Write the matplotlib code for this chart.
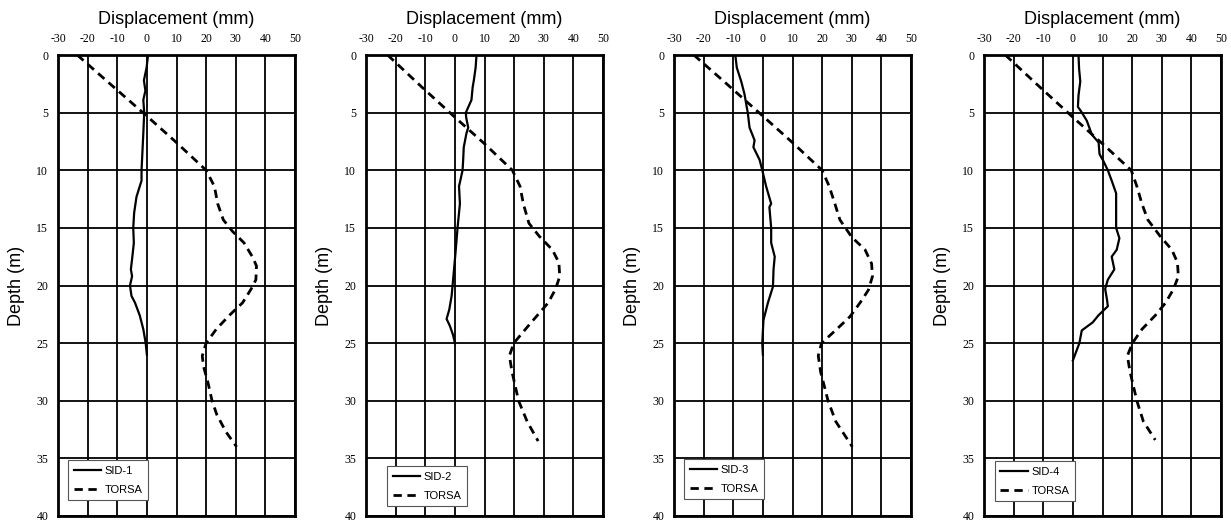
import matplotlib
matplotlib.use("Agg")
import matplotlib.pyplot as plt

plt.rcParams["axes.unicode_minus"] = False

# Inclinometer readings: depth (m) and lateral displacement (mm)
sid1_depth = [0, 1.1, 2.2, 3.1, 3.9, 5, 6.8, 10, 10.9, 12.3, 13.7, 15, 16.3, 17.5, 18.6, 19.2, 20, 20.9, 21.5, 22.6, 23.8, 25, 26]
sid1_disp = [0.4, -0.1, -1, -0.5, -1.2, -0.9, -1.2, -1.8, -1.8, -3.5, -4.3, -4.6, -4.4, -4.9, -5.4, -5.0, -5.7, -5.2, -4, -2.4, -1.2, -0.4, 0]

sid2_depth = [0, 1.1, 2.2, 2.8, 3.9, 5, 5.4, 6.3, 6.8, 8, 9.1, 10, 11.4, 12.9, 15, 17.2, 19.5, 20.9, 22.1, 22.9, 23.5, 24.3, 25]
sid2_disp = [7.3, 7, 6.4, 6, 5.6, 3.7, 3.8, 4.5, 3.9, 3, 2.8, 2.6, 1.4, 1.7, 0.9, 0.2, -0.6, -1.1, -1.9, -2.8, -1.7, -0.6, 0]

sid3_depth = [0, 1.1, 2.3, 3.4, 4.3, 5, 6.3, 7.4, 8, 9.1, 10, 11.4, 12.9, 13.2, 15, 16.3, 17.5, 18.6, 20.1, 21.5, 23, 25, 26]
sid3_disp = [-9.3, -8.8, -7.3, -6.2, -5.6, -5.1, -4.5, -2.8, -3.2, -1.1, -0.2, 1.1, 2.8, 2.2, 2.8, 2.8, 4, 3.6, 3.4, 1.7, 0.2, -0.2, 0]

sid4_depth = [0, 1.2, 2.3, 3.5, 4.5, 4.9, 5.7, 6.9, 7.6, 8, 8.6, 9.2, 10, 10.9, 12, 13.7, 15, 15.9, 16.9, 17.5, 18.6, 19.5, 20.3, 21.2, 21.8, 22.6, 23.2, 23.9, 25, 26.5]
sid4_disp = [1.9, 2.1, 2.5, 1.9, 1.7, 2.8, 4.7, 6.4, 8.7, 8.8, 9, 10.3, 11.8, 13.1, 14.6, 14.6, 14.6, 15.7, 14.8, 13.1, 14, 11.8, 10.9, 11.5, 11.8, 8.6, 6.7, 3, 2.2, 0]

# TORSA predictions for each location
torsa1_depth = [0, 2.6, 5.3, 7.6, 10, 11.4, 12.9, 14.3, 15.3, 16.3, 17.5, 18.3, 19.5, 20.3, 21.5, 22.6, 23.8, 25, 26.1, 27, 28.4, 30, 31.2, 32.7, 34]
torsa1_disp = [-23.5, -12, 0, 10, 20, 22.8, 23.9, 25.8, 28.9, 32.8, 35.6, 37, 36.8, 35.2, 32.3, 27.8, 23.4, 20, 18.7, 19.1, 20.6, 22, 23.6, 26.7, 30.3]

torsa2_depth = [0, 2.7, 5.4, 7.7, 10, 11.4, 12.9, 14.6, 15.7, 16.9, 18, 19.2, 20.3, 21.5, 22.6, 23.8, 25, 26.1, 27.5, 30, 31.8, 33.5]
torsa2_disp = [-22.7, -11.5, 0, 10, 19.4, 22, 23.1, 25, 28.4, 32.9, 35.1, 35.4, 34, 31.5, 27.8, 23.8, 19.9, 18.4, 19.3, 21.5, 24.4, 28.1]

torsa3_depth = [0, 2.6, 5.3, 7.6, 10, 11.4, 12.9, 14.3, 15.8, 16.9, 18.1, 19.2, 20.4, 21.5, 22.7, 23.8, 25, 26.1, 27.5, 30, 31.8, 34]
torsa3_disp = [-23.3, -11.8, 0, 10, 20, 22.4, 24.3, 26, 30, 34.5, 36.7, 37, 35.6, 32.8, 29.4, 24.9, 19.8, 18.7, 19.5, 22, 24.6, 30.2]

torsa4_depth = [0, 2.7, 5.4, 7.7, 10, 11.4, 12.9, 14.3, 15.7, 16.9, 18, 19.2, 20.3, 21.5, 22.6, 23.8, 25, 26.1, 27.5, 30, 31.8, 33.4]
torsa4_disp = [-22.8, -11.5, 0, 10, 19.7, 21.6, 23.3, 25.3, 29.4, 33.4, 35.3, 35.6, 34, 31.3, 27.8, 23.3, 20.1, 18.4, 19.3, 21.6, 23.8, 27.8]

panel_names = ["SID-1", "SID-2", "SID-3", "SID-4"]
x_ticks = [-30, -20, -10, 0, 10, 20, 30, 40, 50]
y_ticks = [0, 5, 10, 15, 20, 25, 30, 35, 40]

sid_series = [(sid1_disp, sid1_depth), (sid2_disp, sid2_depth),
              (sid3_disp, sid3_depth), (sid4_disp, sid4_depth)]
torsa_series = [(torsa1_disp, torsa1_depth), (torsa2_disp, torsa2_depth),
                (torsa3_disp, torsa3_depth), (torsa4_disp, torsa4_depth)]

W, H = 1231, 523
fig = plt.figure(figsize=(W / 100, H / 100), dpi=100)

lefts_px = [58, 366, 674, 984]
width_px = 237
top_px, bottom_px = 55, 516
legend_anchor = [(0.042, 0.121), (0.089, 0.108), (0.042, 0.123), (0.046, 0.119)]

serif = ["Liberation Serif", "DejaVu Serif"]
sans = ["Liberation Sans", "DejaVu Sans"]

for i in range(4):
    ax = fig.add_axes([lefts_px[i] / W, (H - bottom_px) / H,
                       width_px / W, (bottom_px - top_px) / H])
    ax.set_xlim(-30, 50)
    ax.set_ylim(40, 0)
    ax.set_xticks(x_ticks)
    ax.set_yticks(y_ticks)
    ax.xaxis.tick_top()
    ax.tick_params(length=0, pad=7)
    ax.tick_params(axis="x", pad=7)
    for lab in ax.get_xticklabels() + ax.get_yticklabels():
        lab.set_fontfamily(serif)
        lab.set_fontsize(8.5)
    ax.grid(True, color="black", linewidth=1.3)
    ax.set_axisbelow(True)
    for sp in ax.spines.values():
        sp.set_linewidth(2.0)
        sp.set_color("black")

    sx, sy = sid_series[i]
    tx, ty = torsa_series[i]
    ax.plot(sx, sy, color="black", linewidth=1.6, label=panel_names[i],
            solid_joinstyle="round")
    ax.plot(tx, ty, color="black", linewidth=2.0, dashes=(3, 2.0),
            label="TORSA")

    ax.text(0.5, 1.078, "Displacement (mm)", transform=ax.transAxes,
            ha="center", va="center", fontsize=13, family=sans)
    ax.set_ylabel("Depth (m)", fontsize=13, family=sans)
    ax.yaxis.set_label_coords(-0.14, 0.5)

    leg = ax.legend(loc="upper left", bbox_to_anchor=legend_anchor[i],
                    fancybox=False, framealpha=1, edgecolor="#555555",
                    prop={"family": sans, "size": 8}, handlelength=2.5,
                    handletextpad=0.3, labelspacing=0.8, borderpad=0.5,
                    borderaxespad=0)
    leg.get_frame().set_linewidth(0.8)

fig.savefig("out.png", dpi=100)
